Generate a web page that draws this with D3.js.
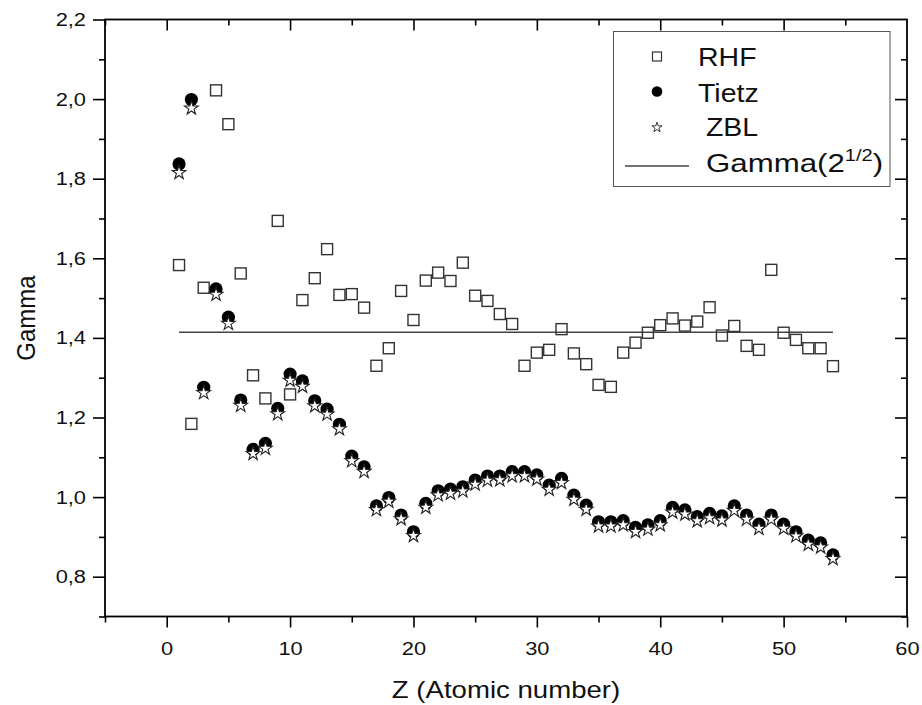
<!DOCTYPE html>
<html>
<head>
<meta charset="utf-8">
<script src="https://cdn.jsdelivr.net/npm/d3@7"></script>
<style>
  body { margin: 0; background: #fff; }
  svg { display: block; }
  text { font-family: "Liberation Sans", Arial, sans-serif; fill: #111; }
</style>
</head>
<body>
<svg id="chart" width="922" height="705"></svg>
<script>
// Atomic numbers
const Z = [1,2,3,4,5,6,7,8,9,10,11,12,13,14,15,16,17,18,19,20,21,22,23,24,25,26,27,
           28,29,30,31,32,33,34,35,36,37,38,39,40,41,42,43,44,45,46,47,48,49,50,51,52,53,54];

// Gamma from RHF screening functions
const rhf = [1.583,1.184,1.526,2.022,1.937,1.562,1.306,1.248,1.694,1.258,1.495,1.550,1.623,1.508,
             1.510,1.476,1.330,1.374,1.518,1.445,1.544,1.564,1.543,1.589,1.506,1.493,1.460,1.435,
             1.330,1.363,1.370,1.422,1.361,1.334,1.282,1.277,1.363,1.388,1.413,1.432,1.449,1.431,
             1.441,1.477,1.406,1.430,1.380,1.370,1.571,1.413,1.395,1.374,1.374,1.329];

// Gamma from the Tietz potential
const tietz = [1.837,1.999,1.276,1.523,1.452,1.244,1.120,1.135,1.223,1.309,1.292,1.242,1.221,1.183,
               1.103,1.076,0.978,0.999,0.955,0.913,0.984,1.016,1.020,1.026,1.043,1.053,1.053,1.064,
               1.064,1.056,1.030,1.047,1.005,0.980,0.938,0.938,0.941,0.924,0.930,0.941,0.974,0.968,
               0.951,0.959,0.953,0.978,0.955,0.932,0.955,0.932,0.913,0.892,0.885,0.855];

// Gamma from the ZBL universal potential
const zbl = [1.815,1.977,1.262,1.509,1.436,1.230,1.109,1.122,1.209,1.293,1.278,1.229,1.208,1.171,
             1.091,1.064,0.968,0.989,0.945,0.903,0.974,1.005,1.009,1.015,1.032,1.042,1.043,1.053,
             1.053,1.045,1.019,1.036,0.994,0.969,0.927,0.927,0.930,0.913,0.919,0.930,0.962,0.957,
             0.940,0.948,0.942,0.966,0.944,0.921,0.944,0.921,0.902,0.881,0.874,0.845];

// Reference level Gamma(sqrt 2) over the Z range
const gammaRef = Math.SQRT2;
const refRange = [1, 54];

// Axis ticks
const xMajor = [0,10,20,30,40,50,60];
const xMinor = [-5,5,15,25,35,45,55];
const yMajor = [0.8,1.0,1.2,1.4,1.6,1.8,2.0,2.2];
const yMinor = [0.7,0.9,1.1,1.3,1.5,1.7,1.9,2.1];

const legendItems = ["RHF", "Tietz", " ZBL"];

const svg = d3.select("#chart");
const L = 105, R = 907, T = 19.5, B = 616.5;
const x = d3.scaleLinear().domain([-5, 60]).range([L, R]);
const y = d3.scaleLinear().domain([0.7, 2.2]).range([B, T]);

const SX = 1.15;          // horizontal stretch of the axis lettering
const fmtY = d => d3.format(".1f")(d).replace(".", ",");

function styleAxis(g) {
  g.selectAll("path").remove();
  g.selectAll("line").attr("stroke", "#000").attr("stroke-width", 1.6);
}

// bottom axis
svg.append("g").attr("transform", `translate(0,${B})`)
  .call(d3.axisBottom(x).tickValues(xMinor).tickSize(6).tickFormat(""))
  .call(styleAxis);
const bx = svg.append("g").attr("transform", `translate(0,${B})`)
  .call(d3.axisBottom(x).tickValues(xMajor).tickSize(11).tickPadding(14).tickFormat(d3.format("d")))
  .call(styleAxis);
bx.selectAll("text").attr("font-size", 19).attr("fill", "#111")
  .attr("font-family", "Liberation Sans, Arial, sans-serif")
  .attr("transform", `scale(${SX},1)`);

// top axis (inward ticks)
svg.append("g").attr("transform", `translate(0,${T})`)
  .call(d3.axisBottom(x).tickValues(xMinor).tickSize(6).tickFormat(""))
  .call(styleAxis);
svg.append("g").attr("transform", `translate(0,${T})`)
  .call(d3.axisBottom(x).tickValues(xMajor.filter(v => v < 60)).tickSize(11).tickFormat(""))
  .call(styleAxis);

// left axis
svg.append("g").attr("transform", `translate(${L},0)`)
  .call(d3.axisLeft(y).tickValues(yMinor).tickSize(6).tickFormat(""))
  .call(styleAxis);
const ly = svg.append("g").attr("transform", `translate(${L},0)`)
  .call(d3.axisLeft(y).tickValues(yMajor).tickSize(12).tickPadding(7).tickFormat(fmtY))
  .call(styleAxis);
ly.selectAll("text").attr("font-size", 19).attr("fill", "#111")
  .attr("font-family", "Liberation Sans, Arial, sans-serif")
  .attr("x", -19 / SX)
  .attr("transform", `scale(${SX},1)`);

// right axis (inward ticks)
svg.append("g").attr("transform", `translate(${R},0)`)
  .call(d3.axisRight(y).tickValues(yMinor).tickSize(-6).tickFormat(""))
  .call(styleAxis);
svg.append("g").attr("transform", `translate(${R},0)`)
  .call(d3.axisRight(y).tickValues(yMajor.filter(v => v < 2.2)).tickSize(-12).tickFormat(""))
  .call(styleAxis);

// frame
svg.append("rect").attr("x", L).attr("y", T).attr("width", R - L).attr("height", B - T)
  .attr("fill", "none").attr("stroke", "#000").attr("stroke-width", 1.8);

// axis titles
svg.append("text").attr("text-anchor", "middle").attr("font-size", 23)
  .attr("transform", `translate(${(L + R) / 2},698) scale(1.2,1)`)
  .text("Z (Atomic number)");
svg.append("text").attr("text-anchor", "middle").attr("font-size", 24)
  .attr("transform", `translate(35,${(T + B) / 2}) scale(1.05,1) rotate(-90)`)
  .text("Gamma");

// reference line
svg.append("line")
  .attr("x1", x(refRange[0])).attr("x2", x(refRange[1]))
  .attr("y1", y(gammaRef)).attr("y2", y(gammaRef))
  .attr("stroke", "#444").attr("stroke-width", 1.6);

const rows = Z.map((z, i) => ({ z, rhf: rhf[i], tietz: tietz[i], zbl: zbl[i] }));

// RHF: open squares
const sq = 11;
svg.append("g").selectAll("rect").data(rows).join("rect")
  .attr("x", d => x(d.z) - sq / 2).attr("y", d => y(d.rhf) - sq / 2)
  .attr("width", sq).attr("height", sq)
  .attr("fill", "none").attr("stroke", "#333").attr("stroke-width", 1.4);

// Tietz: filled circles
svg.append("g").selectAll("circle").data(rows).join("circle")
  .attr("cx", d => x(d.z)).attr("cy", d => y(d.tietz)).attr("r", 6.6)
  .attr("fill", "#000");

// ZBL: open stars drawn over the circles
const star = d3.symbol().type(d3.symbolStar).size(58);
svg.append("g").selectAll("path").data(rows).join("path")
  .attr("transform", d => `translate(${x(d.z)},${y(d.zbl)})`)
  .attr("d", star)
  .attr("fill", "#fff").attr("stroke", "#222").attr("stroke-width", 1.1);

// legend
const lg = svg.append("g");
lg.append("rect").attr("x", 613.5).attr("y", 31.5).attr("width", 276.5).attr("height", 155)
  .attr("fill", "#fff").attr("stroke", "#555").attr("stroke-width", 1);
const mx = 657;
lg.append("rect").attr("x", mx - 4.5).attr("y", 52).attr("width", 9).attr("height", 9)
  .attr("fill", "none").attr("stroke", "#333").attr("stroke-width", 1.2);
lg.append("circle").attr("cx", mx).attr("cy", 91.5).attr("r", 5.3).attr("fill", "#000");
lg.append("path").attr("transform", `translate(${mx},127.5)`)
  .attr("d", d3.symbol().type(d3.symbolStar).size(32))
  .attr("fill", "#fff").attr("stroke", "#222").attr("stroke-width", 0.9);
lg.append("line").attr("x1", 625).attr("x2", 689).attr("y1", 166).attr("y2", 166)
  .attr("stroke", "#444").attr("stroke-width", 1.6);

const LSX = 1.14;
const legendY = [66, 102, 136];
legendItems.forEach((t, i) => {
  lg.append("text").attr("font-size", 25).attr("xml:space", "preserve")
    .style("white-space", "pre")
    .attr("transform", `translate(698,${legendY[i]}) scale(${LSX},1)`)
    .text(t);
});
const gt = lg.append("text").attr("font-size", 25)
  .attr("transform", `translate(706,172) scale(1.25,1)`);
gt.append("tspan").text("Gamma(2");
gt.append("tspan").attr("font-size", 16).attr("dy", -11).text("1/2");
gt.append("tspan").attr("dy", 11).text(")");
</script>
</body>
</html>
